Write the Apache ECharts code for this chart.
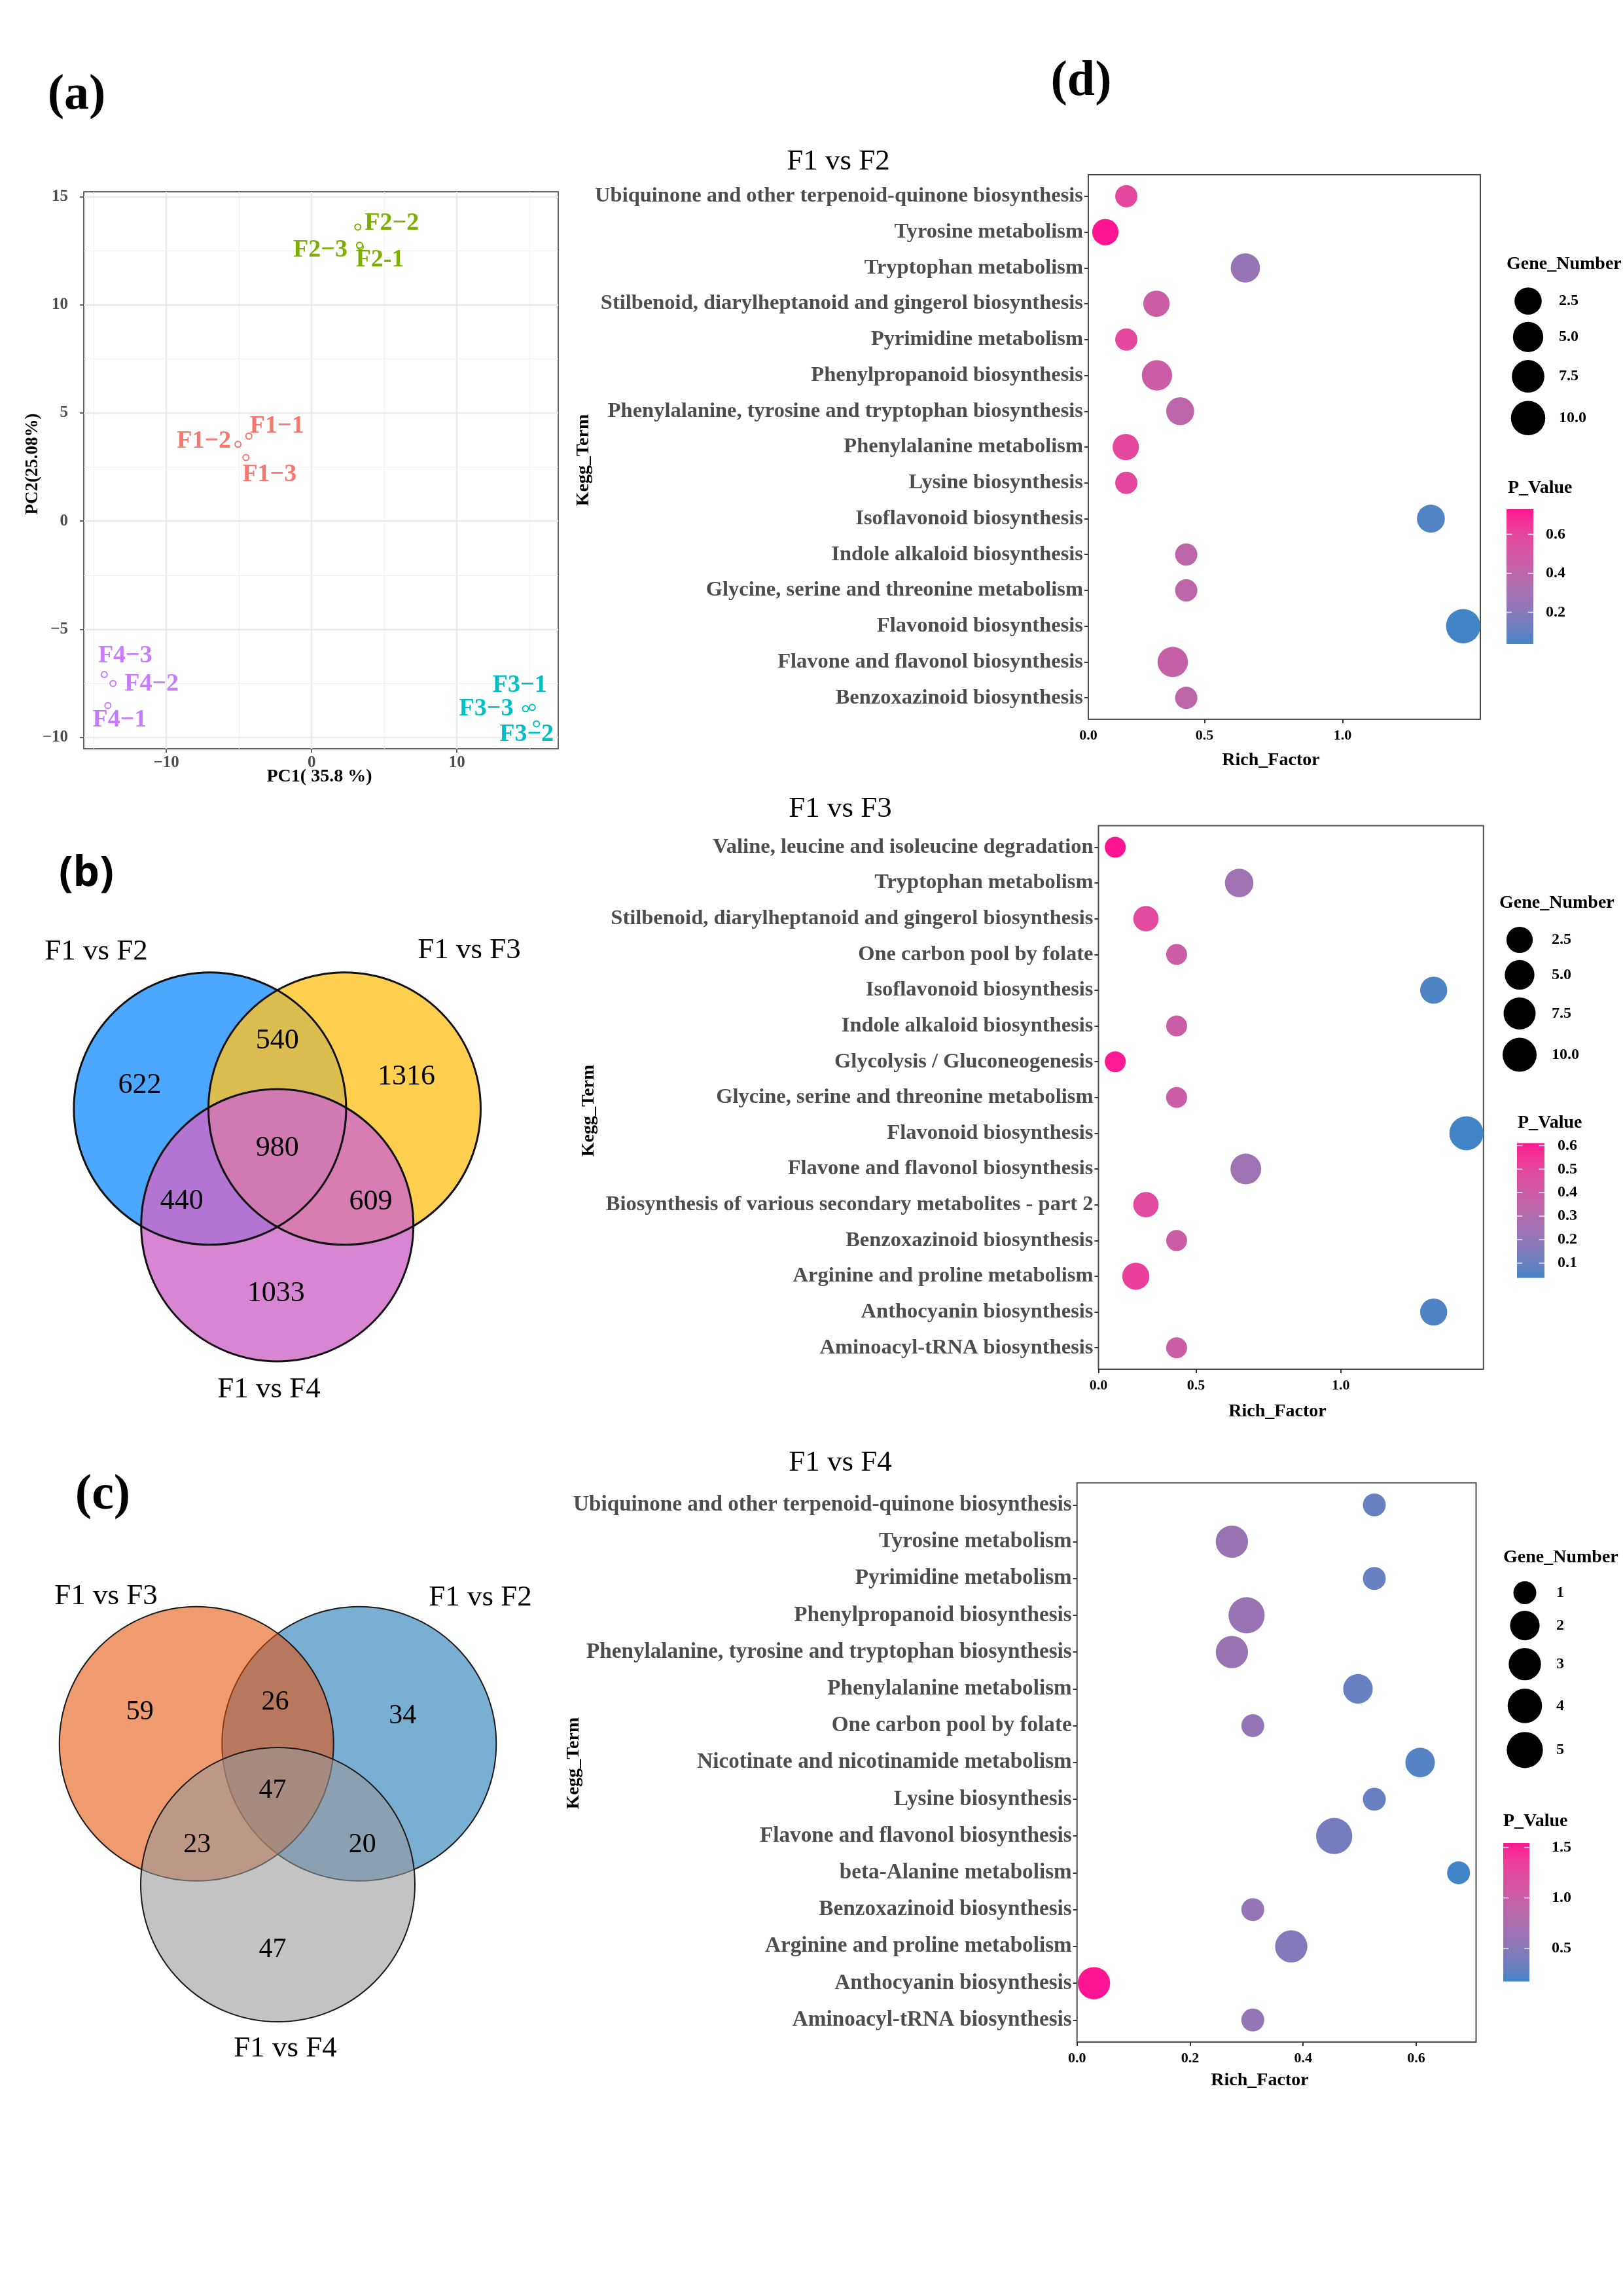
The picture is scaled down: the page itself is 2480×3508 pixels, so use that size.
<!DOCTYPE html>
<html><head><meta charset="utf-8"><title>Figure</title>
<script src="https://cdn.jsdelivr.net/npm/echarts@6.0.0/dist/echarts.min.js"></script>
<style>html,body{margin:0;padding:0;background:#fff;}#chart{width:2480px;height:3508px;}</style>
</head><body><div id="chart"></div>
<script>
// ======================= DATA =======================
// (a) PCA
const pcaGroups = ['F1', 'F2', 'F3', 'F4'];
const pcaLabels = [['F1−1', 'F1−2', 'F1−3'], ['F2-1', 'F2−2', 'F2−3'], ['F3−1', 'F3−2', 'F3−3'], ['F4−1', 'F4−2', 'F4−3']];
const pcaPC1 = [[-4.32, -5.07, -4.52], [3.35, 3.18, 3.30], [15.18, 15.47, 14.72], [-14.02, -13.67, -14.27]];
const pcaPC2 = [[3.93, 3.55, 2.94], [12.68, 13.59, 12.75], [-8.61, -9.37, -8.67], [-8.52, -7.50, -7.09]];
const pcaXTicks = [-10, 0, 10];
const pcaYTicks = [-10, -5, 0, 5, 10, 15];
const pcaXTitle = 'PC1( 35.8 %)';
const pcaYTitle = 'PC2(25.08%)';

// (b) Venn of DEGs
const vennBSets = ['F1 vs F2', 'F1 vs F3', 'F1 vs F4'];
const vennBCounts = [622, 1316, 1033, 540, 609, 440, 980];
// (c) Venn of KEGG pathways
const vennCSets = ['F1 vs F3', 'F1 vs F2', 'F1 vs F4'];
const vennCCounts = [59, 34, 47, 26, 20, 23, 47];
// region membership for the count arrays (set indices)
const vennRegions = [[0], [1], [2], [0, 1], [1, 2], [0, 2], [0, 1, 2]];

// (d) KEGG enrichment bubbles
const termsF2 = ['Ubiquinone and other terpenoid-quinone biosynthesis', 'Tyrosine metabolism', 'Tryptophan metabolism', 'Stilbenoid, diarylheptanoid and gingerol biosynthesis', 'Pyrimidine metabolism', 'Phenylpropanoid biosynthesis', 'Phenylalanine, tyrosine and tryptophan biosynthesis', 'Phenylalanine metabolism', 'Lysine biosynthesis', 'Isoflavonoid biosynthesis', 'Indole alkaloid biosynthesis', 'Glycine, serine and threonine metabolism', 'Flavonoid biosynthesis', 'Flavone and flavonol biosynthesis', 'Benzoxazinoid biosynthesis'];
const richF2 = [0.217, 0.141, 0.648, 0.326, 0.217, 0.328, 0.412, 0.215, 0.217, 1.320, 0.434, 0.434, 1.437, 0.385, 0.434];
const geneF2 = [1, 2, 4, 2, 1, 5, 3, 2, 1, 3, 1, 1, 10, 5, 1];
const pvalF2 = [0.59, 0.729, 0.245, 0.47, 0.59, 0.47, 0.40, 0.59, 0.59, 0.06, 0.40, 0.40, 0.037, 0.44, 0.40];
const richTicksF2 = [0.5, 1.0];
const sizeKeysF2 = [2.5, 5.0, 7.5, 10.0];
const pKeysF2 = [0.2, 0.4, 0.6];

const termsF3 = ['Valine, leucine and isoleucine degradation', 'Tryptophan metabolism', 'Stilbenoid, diarylheptanoid and gingerol biosynthesis', 'One carbon pool by folate', 'Isoflavonoid biosynthesis', 'Indole alkaloid biosynthesis', 'Glycolysis / Gluconeogenesis', 'Glycine, serine and threonine metabolism', 'Flavonoid biosynthesis', 'Flavone and flavonol biosynthesis', 'Biosynthesis of various secondary metabolites - part 2', 'Benzoxazinoid biosynthesis', 'Arginine and proline metabolism', 'Anthocyanin biosynthesis', 'Aminoacyl-tRNA biosynthesis'];
const richF3 = [0.221, 0.649, 0.327, 0.433, 1.321, 0.433, 0.221, 0.433, 1.434, 0.672, 0.327, 0.433, 0.292, 1.321, 0.433];
const geneF3 = [1, 4, 2, 1, 3, 1, 1, 1, 10, 6, 2, 1, 3, 3, 1];
const pvalF3 = [0.611, 0.24, 0.485, 0.39, 0.055, 0.39, 0.605, 0.39, 0.037, 0.235, 0.485, 0.39, 0.52, 0.055, 0.39];
const richTicksF3 = [0.5, 1.0];
const sizeKeysF3 = [2.5, 5.0, 7.5, 10.0];
const pKeysF3 = [0.1, 0.2, 0.3, 0.4, 0.5, 0.6];

const termsF4 = ['Ubiquinone and other terpenoid-quinone biosynthesis', 'Tyrosine metabolism', 'Pyrimidine metabolism', 'Phenylpropanoid biosynthesis', 'Phenylalanine, tyrosine and tryptophan biosynthesis', 'Phenylalanine metabolism', 'One carbon pool by folate', 'Nicotinate and nicotinamide metabolism', 'Lysine biosynthesis', 'Flavone and flavonol biosynthesis', 'beta-Alanine metabolism', 'Benzoxazinoid biosynthesis', 'Arginine and proline metabolism', 'Anthocyanin biosynthesis', 'Aminoacyl-tRNA biosynthesis'];
const richF4 = [0.526, 0.274, 0.526, 0.300, 0.274, 0.497, 0.311, 0.607, 0.526, 0.455, 0.675, 0.311, 0.379, 0.030, 0.311];
const geneF4 = [1, 3, 1, 5, 3, 2, 1, 2, 1, 5, 1, 1, 3, 3, 1];
const pvalF4 = [0.31, 0.61, 0.31, 0.61, 0.61, 0.31, 0.58, 0.24, 0.31, 0.39, 0.171, 0.58, 0.47, 1.543, 0.58];
const richTicksF4 = [0, 0.2, 0.4, 0.6];
const sizeKeysF4 = [1, 2, 3, 4, 5];
const pKeysF4 = [0.5, 1.0, 1.5];

// ======================= STYLE / LAYOUT =======================
const SERIF = '"Liberation Serif","Times New Roman",serif';
const SANS = '"Noto Sans","DejaVu Sans",sans-serif';
const pcaColors = ['#F8766D', '#7CAE00', '#00BFC4', '#C77CFF'];
const pcaLabelOffsets = {
  'F1−1': [43, -15], 'F1−2': [-52, -5], 'F1−3': [36, 26],
  'F2-1': [30, 20], 'F2−2': [52, -6], 'F2−3': [-60, 8],
  'F3−1': [-19, -34], 'F3−2': [-15, 16], 'F3−3': [-60, 0],
  'F4−1': [18, 22], 'F4−2': [59, 1], 'F4−3': [32, -28]
};
const pcaLayout = {left: 128, top: 293, width: 725, height: 851, xMin: -15.68, xMax: 16.97, yMin: -10.52, yMax: 15.22};

const vennLayouts = [
  {sets: vennBSets, counts: vennBCounts, gx: 423.7, gy: 1753.2, rho: 118.7, r: 208, angles: [210, 330, 90],
   kU: 1.9, kP: 1.39, dyP: 0, cdx: 0, cdy: 1, fontSize: 44,
   nudges: [[-15, 18], [2, 5], [-2, -2], [0, 2], [0, 1], [-3, 0], [0, 0]],
   fills: ['rgba(30,145,255,0.8)', 'rgba(255,195,36,0.8)', 'rgba(206,104,201,0.8)'], drawOrder: [0, 1, 2],
   innerStroke: false, outline: '#111', lineWidth: 3,
   setLabelPos: [[147, 1454], [717, 1452], [411, 2123]]},
  {sets: vennCSets, counts: vennCCounts, gx: 424.5, gy: 2736.1, rho: 143.5, r: 209.5, angles: [210, 330, 90],
   kU: 1.64, kP: 1.0, dyP: 10, cdx: -8, cdy: 0, fontSize: 42,
   nudges: [[-7, -2], [-13, 4], [-8, 8], [-4, -2], [5, 1], [1, 1], [0, 0]],
   fills: ['rgba(229,81,9,0.58)', 'rgba(26,117,181,0.58)', 'rgba(152,152,152,0.58)'], drawOrder: [1, 0, 2],
   innerStroke: true, outline: '#1a1a1a', lineWidth: 2,
   setLabelPos: [[162, 2439], [734, 2441], [436, 3130]]}
];

const bubblePanels = [
  {title: 'F1 vs F2', terms: termsF2, rich: richF2, gene: geneF2, pval: pvalF2, richTicks: richTicksF2, sizeKeys: sizeKeysF2, pKeys: pKeysF2, sizeFmt: v => v.toFixed(1), pFmt: v => v.toFixed(1)},
  {title: 'F1 vs F3', terms: termsF3, rich: richF3, gene: geneF3, pval: pvalF3, richTicks: richTicksF3, sizeKeys: sizeKeysF3, pKeys: pKeysF3, sizeFmt: v => v.toFixed(1), pFmt: v => v.toFixed(1)},
  {title: 'F1 vs F4', terms: termsF4, rich: richF4, gene: geneF4, pval: pvalF4, richTicks: richTicksF4, sizeKeys: sizeKeysF4, pKeys: pKeysF4, sizeFmt: v => String(v), pFmt: v => v.toFixed(1)}
];
const bubbleLayouts = [
  {left: 1663, top: 267, right: 2262, bottom: 1099, xMin: 0.0794, xMax: 1.499, minTick: false, termSize: 32.5,
   dMin: 34, dMax: 52.5, title: [1281, 247], yName: [892, 703], xName: [1942, 1162],
   gTitle: [2302, 404], gCx: 2335, gCy0: 460, gLabX: 2382, pTitle: [2304, 746], bar: [2302, 778, 41, 206], pLabX: 2362},
  {left: 1678.5, top: 1261.6, right: 2266.8, bottom: 2092, xMin: 0.163, xMax: 1.493, minTick: true, termSize: 32.5,
   dMin: 32, dMax: 52, title: [1284, 1236], yName: [900, 1697], xName: [1952, 2157],
   gTitle: [2291, 1380], gCx: 2322, gCy0: 1436, gLabX: 2371, pTitle: [2319, 1716], bar: [2318, 1746.5, 42, 206], pLabX: 2380},
  {left: 1645.7, top: 2265.6, right: 2255.5, bottom: 3120, xMin: 0, xMax: 0.706, minTick: true, termSize: 33.2,
   dMin: 35, dMax: 55.3, title: [1284, 2235], yName: [877, 2694], xName: [1925, 3179],
   gTitle: [2297, 2380], gCx: 2330, gCy0: 2433.5, gLabX: 2378, pTitle: [2297, 2783], bar: [2297, 2816, 40, 211.5], pLabX: 2371}
];
const LOW_COLOR = '#4285C6', HIGH_COLOR = '#FF1493';

// ======================= HELPERS =======================
function hexToRgb(h) { h = h.replace('#', ''); return [0, 2, 4].map(i => parseInt(h.slice(i, i + 2), 16)); }
function rgbToLab(rgb) {
  const lin = rgb.map(c => { c /= 255; return c <= 0.04045 ? c / 12.92 : Math.pow((c + 0.055) / 1.055, 2.4); });
  const X = (0.4124 * lin[0] + 0.3576 * lin[1] + 0.1805 * lin[2]) / 0.95047;
  const Y = (0.2126 * lin[0] + 0.7152 * lin[1] + 0.0722 * lin[2]);
  const Z = (0.0193 * lin[0] + 0.1192 * lin[1] + 0.9505 * lin[2]) / 1.08883;
  const f = t => t > 0.008856 ? Math.cbrt(t) : 7.787 * t + 16 / 116;
  const fx = f(X), fy = f(Y), fz = f(Z);
  return [116 * fy - 16, 500 * (fx - fy), 200 * (fy - fz)];
}
function labToRgbStr(lab) {
  const fy = (lab[0] + 16) / 116, fx = lab[1] / 500 + fy, fz = fy - lab[2] / 200;
  const inv = f => { const f3 = f * f * f; return f3 > 0.008856 ? f3 : (f - 16 / 116) / 7.787; };
  const X = inv(fx) * 0.95047, Y = inv(fy), Z = inv(fz) * 1.08883;
  const r = 3.2406 * X - 1.5372 * Y - 0.4986 * Z, g = -0.9689 * X + 1.8758 * Y + 0.0415 * Z, b = 0.0557 * X - 0.2040 * Y + 1.0570 * Z;
  const enc = c => { c = Math.max(0, Math.min(1, c)); const v = c <= 0.0031308 ? 12.92 * c : 1.055 * Math.pow(c, 1 / 2.4) - 0.055; return Math.round(v * 255); };
  return 'rgb(' + enc(r) + ',' + enc(g) + ',' + enc(b) + ')';
}
const LAB_LOW = rgbToLab(hexToRgb(LOW_COLOR)), LAB_HIGH = rgbToLab(hexToRgb(HIGH_COLOR));
function gradAt(t) { t = Math.max(0, Math.min(1, t)); return labToRgbStr(LAB_LOW.map((v, i) => v + (LAB_HIGH[i] - v) * t)); }
function pRange(P) { return [Math.min(...P.pval), Math.max(...P.pval)]; }
function colorOf(P, p) { const [a, b] = pRange(P); return gradAt((p - a) / (b - a)); }
function sizeOf(P, L, g) {
  const a = Math.min(...P.gene), b = Math.max(...P.gene);
  return L.dMin + (L.dMax - L.dMin) * Math.sqrt(Math.max(0, (g - a) / (b - a)));
}
function fmtMinus(v) { return v < 0 ? '−' + Math.abs(v) : String(v); }
function txt(x, y, text, o) {
  o = o || {};
  return {type: 'text', x: x, y: y, rotation: o.rot || 0, silent: true, z: 50,
    style: {text: text, fill: o.color || '#000', fontSize: o.size || 24, fontFamily: o.family || SERIF,
      fontWeight: o.weight || 'normal', align: o.align || 'center', verticalAlign: o.va || 'middle'}};
}

// ======================= BUILD OPTION =======================
const grids = [], xAxes = [], yAxes = [], series = [], graphics = [];

// ---- (a) PCA ----
grids.push({left: pcaLayout.left, top: pcaLayout.top, width: pcaLayout.width, height: pcaLayout.height,
  show: true, borderColor: '#333333', borderWidth: 1.5, backgroundColor: '#ffffff'});
xAxes.push({type: 'value', gridIndex: 0, position: 'bottom', min: pcaLayout.xMin, max: pcaLayout.xMax,
  axisLine: {show: false, onZero: false}, splitLine: {show: false},
  axisTick: {show: true, customValues: pcaXTicks, length: 6, lineStyle: {color: '#333', width: 1.5}},
  axisLabel: {customValues: pcaXTicks, formatter: fmtMinus, color: '#4D4D4D', fontFamily: SERIF, fontWeight: 'bold', fontSize: 25, margin: 9}});
yAxes.push({type: 'value', gridIndex: 0, position: 'left', min: pcaLayout.yMin, max: pcaLayout.yMax,
  axisLine: {show: false, onZero: false}, splitLine: {show: false},
  axisTick: {show: true, customValues: pcaYTicks, length: 6, lineStyle: {color: '#333', width: 1.5}},
  axisLabel: {customValues: pcaYTicks, formatter: fmtMinus, color: '#4D4D4D', fontFamily: SERIF, fontWeight: 'bold', fontSize: 25, margin: 24}});

function minorsOf(ticks, lo, hi) {
  const step = ticks[1] - ticks[0], out = [];
  for (let v = ticks[0] - step / 2; v <= ticks[ticks.length - 1] + step / 2 + 1e-9; v += step) { if (v > lo && v < hi) out.push(v); }
  return out;
}
const gridLines = [];
pcaXTicks.forEach(v => gridLines.push({xAxis: v, lineStyle: {color: '#EBEBEB', width: 2.4, type: 'solid'}}));
minorsOf(pcaXTicks, pcaLayout.xMin, pcaLayout.xMax).forEach(v => gridLines.push({xAxis: v, lineStyle: {color: '#F2F2F2', width: 1.2, type: 'solid'}}));
pcaYTicks.forEach(v => gridLines.push({yAxis: v, lineStyle: {color: '#EBEBEB', width: 2.4, type: 'solid'}}));
minorsOf(pcaYTicks, pcaLayout.yMin, pcaLayout.yMax).forEach(v => gridLines.push({yAxis: v, lineStyle: {color: '#F2F2F2', width: 1.2, type: 'solid'}}));
series.push({type: 'scatter', xAxisIndex: 0, yAxisIndex: 0, data: [], z: 1, silent: true,
  markLine: {silent: true, symbol: ['none', 'none'], label: {show: false}, animation: false, data: gridLines}});

pcaGroups.forEach((g, gi) => {
  series.push({type: 'scatter', name: g, xAxisIndex: 0, yAxisIndex: 0, z: 5, symbol: 'emptyCircle', symbolSize: 9,
    itemStyle: {color: pcaColors[gi], borderWidth: 1.6, opacity: 1},
    emphasis: {disabled: true},
    label: {show: true, position: 'inside', formatter: '{b}', color: pcaColors[gi], fontFamily: SERIF, fontWeight: 'bold', fontSize: 38, align: 'center', verticalAlign: 'middle'},
    data: pcaLabels[gi].map((nm, k) => ({name: nm, value: [pcaPC1[gi][k], pcaPC2[gi][k]], label: {offset: pcaLabelOffsets[nm]}}))
  });
});
graphics.push(txt(488, 1187, pcaXTitle, {size: 28, weight: 'bold'}));
graphics.push(txt(50, 709, pcaYTitle, {size: 27, weight: 'bold', rot: Math.PI / 2}));

// ---- (b),(c) Venn diagrams ----
function vennCenters(L) {
  return [0, 1, 2].map(i => { const a = L.angles[i] * Math.PI / 180; return [L.gx + L.rho * Math.cos(a), L.gy + L.rho * Math.sin(a)]; });
}
function regionPos(L, k) {
  const members = vennRegions[k];
  const C = vennCenters(L);
  const u = C.map(c => [(c[0] - L.gx) / L.rho, (c[1] - L.gy) / L.rho]);
  let p;
  if (members.length === 1) { const m = members[0]; p = [L.gx + u[m][0] * L.kU * L.rho, L.gy + u[m][1] * L.kU * L.rho]; }
  else if (members.length === 2) { const m = [0, 1, 2].find(j => members.indexOf(j) < 0); p = [L.gx - u[m][0] * L.kP * L.rho, L.gy - u[m][1] * L.kP * L.rho + L.dyP]; }
  else p = [L.gx + L.cdx, L.gy + L.cdy];
  const n = L.nudges[k] || [0, 0];
  return [p[0] + n[0], p[1] + n[1]];
}
vennLayouts.forEach(L => {
  const C = vennCenters(L);
  series.push({type: 'custom', coordinateSystem: 'none', silent: true, z: 2, animation: false,
    data: L.drawOrder.map(i => [i]),
    renderItem: (params, api) => {
      const i = api.value(0);
      return {type: 'circle', shape: {cx: C[i][0], cy: C[i][1], r: L.r},
        style: {fill: L.fills[i], stroke: L.innerStroke ? L.outline : null, lineWidth: L.lineWidth}};
    }});
  if (!L.innerStroke) {
    series.push({type: 'custom', coordinateSystem: 'none', silent: true, z: 3, animation: false,
      data: [0, 1, 2].map(i => [i]),
      renderItem: (params, api) => {
        const i = api.value(0);
        return {type: 'circle', shape: {cx: C[i][0], cy: C[i][1], r: L.r},
          style: {fill: 'none', stroke: L.outline, lineWidth: L.lineWidth}};
      }});
  }
  series.push({type: 'custom', coordinateSystem: 'none', silent: true, z: 4, animation: false,
    data: L.counts.map((v, k) => [k, v]),
    renderItem: (params, api) => {
      const k = api.value(0), v = api.value(1);
      const p = regionPos(L, k);
      return {type: 'text', x: p[0], y: p[1],
        style: {text: String(v), fill: '#000', fontSize: L.fontSize, fontFamily: SERIF, align: 'center', verticalAlign: 'middle'}};
    }});
  L.sets.forEach((s, i) => graphics.push(txt(L.setLabelPos[i][0], L.setLabelPos[i][1], s, {size: 45})));
});

// ---- (d) bubble plots ----
bubblePanels.forEach((P, pi) => {
  const L = bubbleLayouts[pi];
  const gi = grids.length;
  const idx = P.terms.map((t, k) => k);
  grids.push({left: L.left, top: L.top, width: L.right - L.left, height: L.bottom - L.top,
    show: true, borderColor: '#4D4D4D', borderWidth: 2, backgroundColor: 'transparent'});
  const labelVals = [L.xMin].concat(P.richTicks.filter(v => v > L.xMin + 1e-6));
  const tickVals = L.minTick ? labelVals : P.richTicks.filter(v => v > L.xMin + 1e-6);
  xAxes.push({type: 'value', gridIndex: gi, position: 'bottom', min: L.xMin, max: L.xMax,
    axisLine: {show: false, onZero: false}, splitLine: {show: false},
    axisTick: {show: true, customValues: tickVals, length: 6, lineStyle: {color: '#333', width: 2}},
    axisLabel: {customValues: labelVals, formatter: v => (Math.abs(v - L.xMin) < 1e-6 ? (0).toFixed(1) : v.toFixed(1)),
      color: '#000', fontFamily: SERIF, fontWeight: 'bold', fontSize: 22, margin: 14}});
  yAxes.push({type: 'value', gridIndex: gi, position: 'left', inverse: true, min: -0.6, max: P.terms.length - 0.4,
    axisLine: {show: false, onZero: false}, splitLine: {show: false},
    axisTick: {show: true, customValues: idx, length: 6, lineStyle: {color: '#333', width: 2}},
    axisLabel: {customValues: idx, formatter: v => P.terms[Math.round(v)], color: '#4D4D4D', fontFamily: SERIF, fontWeight: 'bold', fontSize: L.termSize, margin: 8}});
  series.push({type: 'scatter', xAxisIndex: gi, yAxisIndex: gi, z: 5, symbol: 'circle',
    emphasis: {disabled: true},
    data: P.terms.map((t, k) => ({name: t, value: [P.rich[k], k, P.gene[k], P.pval[k]]})),
    symbolSize: val => sizeOf(P, L, val[2]),
    itemStyle: {opacity: 1, color: params => colorOf(P, params.value[3])}
  });
  // titles
  graphics.push(txt(L.title[0], L.title[1], P.title, {size: 45}));
  graphics.push(txt(L.yName[0], L.yName[1], 'Kegg_Term', {size: 28, weight: 'bold', rot: Math.PI / 2}));
  graphics.push(txt(L.xName[0], L.xName[1], 'Rich_Factor', {size: 28, weight: 'bold'}));
  // size legend
  graphics.push(txt(L.gTitle[0], L.gTitle[1], 'Gene_Number', {size: 28, weight: 'bold', align: 'left'}));
  let cy = L.gCy0, prevD = null;
  P.sizeKeys.forEach((v, i) => {
    const d = sizeOf(P, L, v);
    if (i > 0) cy += 1.25 * (prevD + d) / 2;
    prevD = d;
    graphics.push({type: 'circle', silent: true, z: 50, shape: {cx: L.gCx, cy: cy, r: d / 2}, style: {fill: '#000'}});
    graphics.push(txt(L.gLabX, cy, P.sizeFmt(v), {size: 24, weight: 'bold', align: 'left'}));
  });
  // colour bar legend
  graphics.push(txt(L.pTitle[0], L.pTitle[1], 'P_Value', {size: 28, weight: 'bold', align: 'left'}));
  const [bx, by, bw, bh] = L.bar;
  const stops = [];
  for (let k = 0; k <= 24; k++) stops.push({offset: k / 24, color: gradAt(1 - k / 24)});
  graphics.push({type: 'rect', silent: true, z: 50, shape: {x: bx, y: by, width: bw, height: bh},
    style: {fill: new echarts.graphic.LinearGradient(0, 0, 0, 1, stops)}});
  const [pa, pb] = pRange(P);
  P.pKeys.forEach(v => {
    const y = by + bh - (v - pa) / (pb - pa) * bh;
    graphics.push({type: 'line', silent: true, z: 51, shape: {x1: bx, y1: y, x2: bx + bw * 0.2, y2: y}, style: {stroke: 'rgba(255,255,255,0.85)', lineWidth: 1.5}});
    graphics.push({type: 'line', silent: true, z: 51, shape: {x1: bx + bw * 0.8, y1: y, x2: bx + bw, y2: y}, style: {stroke: 'rgba(255,255,255,0.85)', lineWidth: 1.5}});
    graphics.push(txt(L.pLabX, y, P.pFmt(v), {size: 24, weight: 'bold', align: 'left'}));
  });
});

// panel letters
graphics.push(txt(117, 146, '(a)', {size: 76, weight: 'bold'}));
graphics.push(txt(132, 1336, '(b)', {size: 64, weight: 'bold', family: SANS}));
graphics.push(txt(157, 2285, '(c)', {size: 76, weight: 'bold'}));
graphics.push(txt(1652, 125, '(d)', {size: 76, weight: 'bold'}));

const chart = echarts.init(document.getElementById('chart'), null, {renderer: 'canvas', width: 2480, height: 3508});
chart.setOption({
  backgroundColor: '#ffffff',
  animation: false,
  textStyle: {fontFamily: SERIF},
  grid: grids, xAxis: xAxes, yAxis: yAxes, series: series, graphic: {elements: graphics}
});
</script></body></html>
